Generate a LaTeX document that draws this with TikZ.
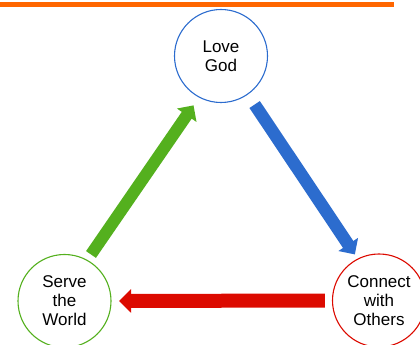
\documentclass[tikz,border=0pt]{standalone}
\usepackage{fontspec}
\setmainfont{Liberation Sans}
\usetikzlibrary{arrows.meta}
\definecolor{barorange}{RGB}{255,102,0}
\definecolor{godblue}{RGB}{44,108,206}
\definecolor{worldgreen}{RGB}{84,176,30}
\definecolor{otherred}{RGB}{220,10,0}
\tikzset{
  ring/.style={circle,draw,line width=1.1pt,minimum size=93pt,inner sep=0pt,
    align=center,font=\fontsize{17}{19}\selectfont},
  fatarrow/.style={line width=#1,-{Triangle[width=23pt,length=12pt]}}
}
\begin{document}
\begin{tikzpicture}[x=1pt,y=1pt]
        \useasboundingbox (0,0) rectangle (420,345);
        \fill[barorange] (0,338) rectangle (394,343);
        % the three circles
        \node[ring,draw=godblue] (god) at (221,289) {Love\\God};
        \node[ring,draw=worldgreen] (world) at (64.5,44) {Serve\\the\\World};
        \node[ring,draw=otherred] (others) at (379,44.5) {Connect\\with\\Others};
        % arrows round the triangle
        \draw[fatarrow=12pt,worldgreen,shorten <=6.5pt,shorten >=9.5pt] (world.61.5) -- (god.242);
        \draw[fatarrow=12.5pt,godblue,shorten <=12pt,shorten >=5pt] (god.-55.5) -- (others.117.8);
        \draw[fatarrow=14pt,otherred,shorten <=7pt,shorten >=7.5pt] (others.west) -- (world.east);
\end{tikzpicture}
\end{document}
